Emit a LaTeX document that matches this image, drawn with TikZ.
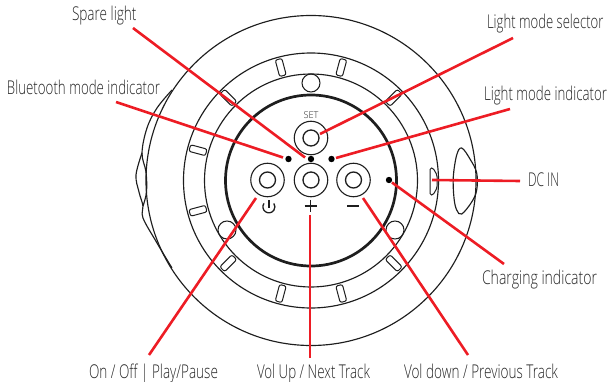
\documentclass[tikz,border=0pt]{standalone}
\usepackage{fontspec}
\usepackage{graphicx}
\setmainfont{Open Sans Light}
\definecolor{ink}{HTML}{1E1E1E}
\definecolor{txt}{HTML}{262626}
\definecolor{callout}{HTML}{ED1C24}
\newcommand{\lbl}[5]{\node[lab] (#1) at (#2,#3) {\resizebox{#4pt}{\height}{#5}};}
\tikzset{
  ring/.style={draw=ink,line width=1.15pt},
  heavy/.style={draw=ink,line width=2.7pt},
  btnout/.style={circle,draw=ink,line width=1.1pt,minimum size=33.5pt,inner sep=0pt},
  btnin/.style={circle,draw=ink,line width=1.3pt,minimum size=16pt,inner sep=0pt},
  led/.style={circle,fill=black,minimum size=6.4pt,inner sep=0pt},
  slot/.style={draw=ink,line width=1pt,rounded corners=2pt,minimum width=17pt,minimum height=6.8pt,inner sep=0pt},
  hole/.style={circle,draw=ink,line width=1.05pt,minimum size=18pt,inner sep=0pt},
  lab/.style={anchor=base west,inner sep=0pt,outer sep=0pt,text=txt,font=\fontsize{19pt}{21pt}\selectfont},
  small/.style={inner sep=0pt,text=txt},
  callout line/.style={draw=callout,line width=2.6pt}
}
\begin{document}
\begin{tikzpicture}[x=1pt,y=-1pt]
\useasboundingbox (0,0) rectangle (610,382);
\coordinate (c) at (311,180.5);
% body
\draw[ring] (c) circle[radius=165pt];
\draw[ring] (c) circle[radius=127.5pt];
\draw[ring] (c) circle[radius=106.5pt];
\draw[heavy] (c) circle[radius=85.5pt];
% left bump
\draw[ring] plot[smooth,tension=0.6] coordinates {(172,90) (157,108) (147,128) (142,153) (146,172) (146.5,192) (143,206)};
\draw[ring] plot[smooth,tension=0.6] coordinates {(142,153) (136,175) (139,192) (143,206) (143,218) (157,243) (172,268)};
% right handle
\draw[ring] plot[smooth cycle,tension=0.6] coordinates {(461.7,148) (470,159) (476.7,173) (476.7,190) (471.7,202) (461.7,214) (456.7,210) (454,198) (453.3,177) (456.7,155)};
% slots
\foreach \a in {45,75,105,135,165,195,225,255,285,315}{
  \pgfmathsetmacro{\sx}{311+117*cos(\a)}
  \pgfmathsetmacro{\sy}{180.5-117*sin(\a)}
  \node[slot,rotate=\a] (slot\a) at (\sx,\sy) {};
}
\draw[ring,line width=1pt,rounded corners=1.5pt] (430,168)--(433,168)--(437,175)--(437,188)--(433,195)--(430,195)--cycle;
% holes
\node[hole] (holeA) at (311,83) {};
\node[hole] (holeB) at (227,230) {};
\node[hole] (holeC) at (395,230) {};
% buttons
\node[btnout] (setO) at (311,138) {};
\node[btnin]  (setI) at (311,138) {};
\node[btnout] (pwrO) at (267.5,180) {};
\node[btnin]  (pwrI) at (267.5,180) {};
\node[btnout] (upO) at (311,180) {};
\node[btnin]  (upI) at (311,180) {};
\node[btnout] (dnO) at (353.5,180) {};
\node[btnin]  (dnI) at (353.5,180) {};
% leds
\node[led] (ledBt) at (288.5,159) {};
\node[led] (ledSp) at (311,159) {};
\node[led] (ledLm) at (331.5,159) {};
\node[led] (ledCh) at (389,180) {};
% button marks
\node[small,font=\fontsize{9.5pt}{10pt}\selectfont] (setT) at (311,115.5) {\resizebox{15pt}{\height}{SET}};
\draw[draw=ink,line width=1.4pt] (304.5,206) -- (316.5,206);
\draw[draw=ink,line width=1.4pt] (310.5,200) -- (310.5,212);
\draw[draw=ink,line width=1.4pt] (347,206) -- (359,206);
\draw[draw=ink,line width=1.3pt] (264,203.4) arc[start angle=145,end angle=395,radius=6pt];
\draw[draw=ink,line width=1.3pt] (268.9,200.5) -- (268.9,207.5);
% labels
\lbl{tSpare}{72}{21}{64.5}{Spare light}
\lbl{tBt}{7}{94.5}{153}{Bluetooth mode indicator}
\lbl{tSel}{487}{28.5}{116.5}{Light mode selector}
\lbl{tInd}{484}{100.5}{123}{Light mode indicator}
\lbl{tDc}{528}{187}{31}{DC IN}
\lbl{tCh}{482}{284}{115}{Charging indicator}
\lbl{tOn}{89}{378}{129}{On / Off | Play/Pause}
\lbl{tUp}{257}{378}{113}{Vol Up / Next Track}
\lbl{tDn}{404}{378}{154}{Vol down / Previous Track}
% callout ends
\coordinate (aSp) at (133,28);   \coordinate (bSp) at (305,157.5);
\coordinate (aBt) at (116,102);  \coordinate (bBt) at (283,157.5);
\coordinate (aSe) at (513,38);   \coordinate (bSe) at (320,134);
\coordinate (aIn) at (510,109);  \coordinate (bIn) at (336,158);
\coordinate (aDc) at (520,181);  \coordinate (bDc) at (432,180);
\coordinate (aCh) at (504,264);  \coordinate (bCh) at (392,182.5);
\coordinate (aOn) at (149,355);  \coordinate (bOn) at (256,198);
\coordinate (aUp) at (310,358);  \coordinate (bUp) at (310,215);
\coordinate (aDn) at (468,355);  \coordinate (bDn) at (363,198);
\foreach \k in {Sp,Bt,Se,In,Dc,Ch,On,Up,Dn}{
  \draw[callout line] (a\k) -- (b\k);
}
\end{tikzpicture}
\end{document}
